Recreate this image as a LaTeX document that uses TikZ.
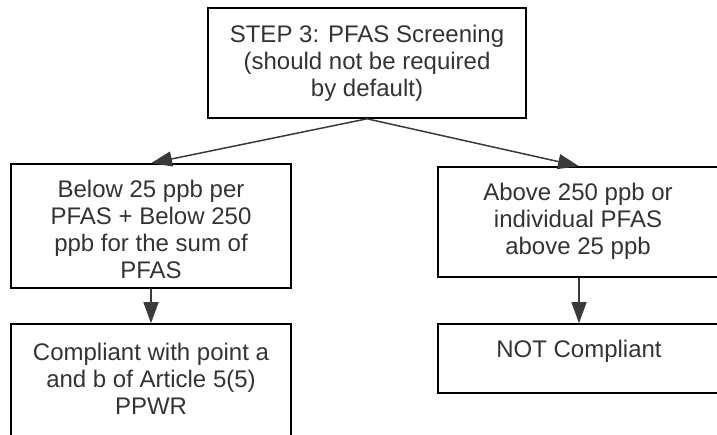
\documentclass[tikz,border=0pt]{standalone}
\usepackage{fontspec}
\setmainfont{Liberation Sans}
\usetikzlibrary{arrows.meta}
\definecolor{txtcol}{HTML}{333333}
\definecolor{arrcol}{HTML}{3A3A3A}
\begin{document}
\begin{tikzpicture}[x=1pt,y=-1pt,
  boxst/.style={draw=black,line width=1.6pt,inner sep=0pt,minimum width=#1},
  txtst/.style={anchor=north,inner sep=0pt,align=center,text=txtcol,
    font=\fontsize{24pt}{27pt}\selectfont},
  arr/.style={draw=arrcol,line width=1.5pt,-{Triangle[length=21pt,width=15pt]}}]
\useasboundingbox (0,0) rectangle (717,434);
\clip (0,0) rectangle (717,434);
% boxes
\node[boxst=318pt,minimum height=110pt] (top) at (367,63) {};
\node[boxst=280pt,minimum height=124pt] (left) at (151,226) {};
\node[boxst=282pt,minimum height=110pt] (right) at (579,222) {};
\node[boxst=280pt,minimum height=136pt] (bl) at (151,392) {};
\node[boxst=282pt,minimum height=69pt] (br) at (579,358.5) {};
% texts
\node[txtst] (ttop) at (367,24.5) {STEP 3: PFAS Screening\\(should not be required\\by default)};
\node[txtst] (tleft) at (151,179.5) {Below 25 ppb per\\PFAS + Below 250\\ppb for the sum of\\PFAS};
\node[txtst] (tright) at (578,183) {Above 250 ppb or\\individual PFAS\\above 25 ppb};
\node[txtst] (tbl) at (151,343) {Compliant with point a\\and b of Article 5(5)\\PPWR};
\node[txtst] (tbr) at (579,340) {NOT Compliant};
% connectors
\draw[arr] (top.south) -- (left.north);
\draw[arr] (top.south) -- (right.north);
\draw[arr] (left.south) -- (bl.north);
\draw[arr] (right.south) -- (br.north);
\end{tikzpicture}
\end{document}
